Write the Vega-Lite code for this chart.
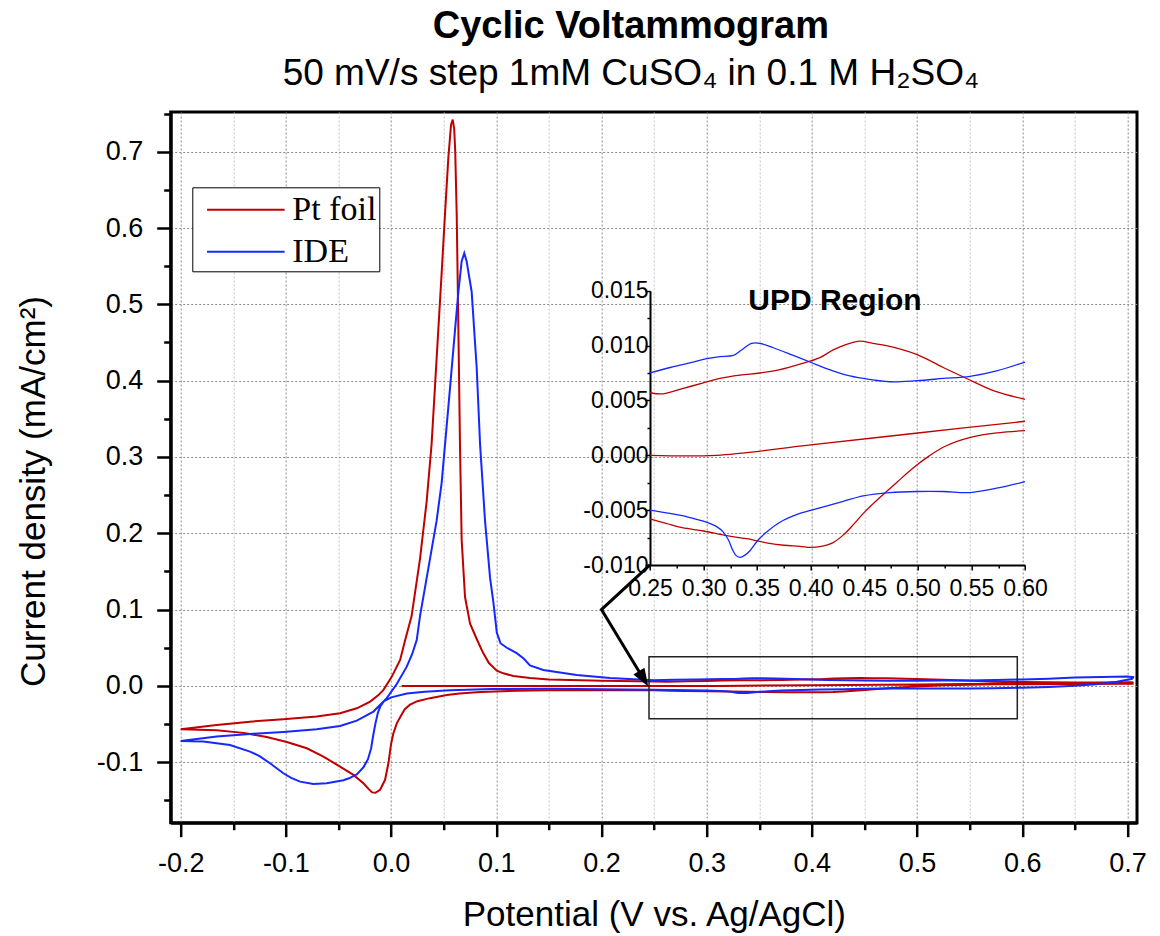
{
  "$schema": "https://vega.github.io/schema/vega-lite/v6.json",
  "width": 966.3,
  "height": 710.7,
  "autosize": {"type": "none"},
  "padding": {"left": 170.7, "top": 112, "right": 23, "bottom": 113.3},
  "background": "white",
  "title": {
    "text": "Cyclic Voltammogram",
    "subtitle": "50 mV/s step 1mM CuSO₄ in 0.1 M H₂SO₄",
    "anchor": "middle",
    "frame": "group",
    "dx": -23,
    "font": "Liberation Sans",
    "fontSize": 38,
    "fontWeight": "bold",
    "color": "black",
    "subtitleFont": "Liberation Sans",
    "subtitleFontSize": 37,
    "subtitleColor": "black",
    "offset": 20,
    "subtitlePadding": 10
  },
  "datasets": {
    "cv": [
      {"sample":"Pt foil","seg":"r0","i":0,"E":0.010,"j":0.0},
      {"sample":"Pt foil","seg":"r0","i":1,"E":0.100,"j":0.0},
      {"sample":"Pt foil","seg":"r0","i":2,"E":0.200,"j":0.0},
      {"sample":"Pt foil","seg":"r0","i":3,"E":0.250,"j":0.0},
      {"sample":"Pt foil","seg":"r0","i":4,"E":0.312,"j":0.0},
      {"sample":"Pt foil","seg":"r0","i":5,"E":0.400,"j":0.00095},
      {"sample":"Pt foil","seg":"r0","i":6,"E":0.500,"j":0.00203},
      {"sample":"Pt foil","seg":"r0","i":7,"E":0.600,"j":0.0031},
      {"sample":"Pt foil","seg":"r0","i":8,"E":0.705,"j":0.0042},
      {"sample":"Pt foil","seg":"r1","i":9,"E":0.705,"j":0.0030},
      {"sample":"Pt foil","seg":"r1","i":10,"E":0.650,"j":0.0025},
      {"sample":"Pt foil","seg":"r1","i":11,"E":0.600,"j":0.00225},
      {"sample":"Pt foil","seg":"r1","i":12,"E":0.575,"j":0.00205},
      {"sample":"Pt foil","seg":"r1","i":13,"E":0.550,"j":0.00165},
      {"sample":"Pt foil","seg":"r1","i":14,"E":0.525,"j":0.0008},
      {"sample":"Pt foil","seg":"r1","i":15,"E":0.510,"j":-0.0001},
      {"sample":"Pt foil","seg":"r1","i":16,"E":0.495,"j":-0.0012},
      {"sample":"Pt foil","seg":"r1","i":17,"E":0.480,"j":-0.0025},
      {"sample":"Pt foil","seg":"r1","i":18,"E":0.465,"j":-0.0038},
      {"sample":"Pt foil","seg":"r1","i":19,"E":0.450,"j":-0.0052},
      {"sample":"Pt foil","seg":"r1","i":20,"E":0.440,"j":-0.0063},
      {"sample":"Pt foil","seg":"r1","i":21,"E":0.430,"j":-0.0073},
      {"sample":"Pt foil","seg":"r1","i":22,"E":0.420,"j":-0.0080},
      {"sample":"Pt foil","seg":"r1","i":23,"E":0.410,"j":-0.0083},
      {"sample":"Pt foil","seg":"r1","i":24,"E":0.400,"j":-0.0084},
      {"sample":"Pt foil","seg":"r1","i":25,"E":0.390,"j":-0.0083},
      {"sample":"Pt foil","seg":"r1","i":26,"E":0.375,"j":-0.0082},
      {"sample":"Pt foil","seg":"r1","i":27,"E":0.360,"j":-0.0080},
      {"sample":"Pt foil","seg":"r1","i":28,"E":0.340,"j":-0.0076},
      {"sample":"Pt foil","seg":"r1","i":29,"E":0.320,"j":-0.0073},
      {"sample":"Pt foil","seg":"r1","i":30,"E":0.300,"j":-0.0069},
      {"sample":"Pt foil","seg":"r1","i":31,"E":0.280,"j":-0.0066},
      {"sample":"Pt foil","seg":"r1","i":32,"E":0.265,"j":-0.0062},
      {"sample":"Pt foil","seg":"r1","i":33,"E":0.250,"j":-0.0058},
      {"sample":"Pt foil","seg":"r1","i":34,"E":0.200,"j":-0.0056},
      {"sample":"Pt foil","seg":"r1","i":35,"E":0.150,"j":-0.0058},
      {"sample":"Pt foil","seg":"r1","i":36,"E":0.120,"j":-0.0064},
      {"sample":"Pt foil","seg":"r1","i":37,"E":0.085,"j":-0.0078},
      {"sample":"Pt foil","seg":"r1","i":38,"E":0.065,"j":-0.0098},
      {"sample":"Pt foil","seg":"r1","i":39,"E":0.053,"j":-0.0118},
      {"sample":"Pt foil","seg":"r1","i":40,"E":0.037,"j":-0.0160},
      {"sample":"Pt foil","seg":"r1","i":41,"E":0.025,"j":-0.0200},
      {"sample":"Pt foil","seg":"r1","i":42,"E":0.018,"j":-0.0245},
      {"sample":"Pt foil","seg":"r1","i":43,"E":0.013,"j":-0.0305},
      {"sample":"Pt foil","seg":"r1","i":44,"E":0.009,"j":-0.0400},
      {"sample":"Pt foil","seg":"r1","i":45,"E":0.0054,"j":-0.0490},
      {"sample":"Pt foil","seg":"r1","i":46,"E":0.0020,"j":-0.0630},
      {"sample":"Pt foil","seg":"r1","i":47,"E":0.0000,"j":-0.0760},
      {"sample":"Pt foil","seg":"r1","i":48,"E":-0.0025,"j":-0.1010},
      {"sample":"Pt foil","seg":"r1","i":49,"E":-0.0057,"j":-0.1230},
      {"sample":"Pt foil","seg":"r1","i":50,"E":-0.0104,"j":-0.1360},
      {"sample":"Pt foil","seg":"r1","i":51,"E":-0.0150,"j":-0.1400},
      {"sample":"Pt foil","seg":"r1","i":52,"E":-0.0180,"j":-0.1395},
      {"sample":"Pt foil","seg":"r1","i":53,"E":-0.0210,"j":-0.1355},
      {"sample":"Pt foil","seg":"r1","i":54,"E":-0.0263,"j":-0.1276},
      {"sample":"Pt foil","seg":"r1","i":55,"E":-0.0358,"j":-0.1166},
      {"sample":"Pt foil","seg":"r1","i":56,"E":-0.0485,"j":-0.1057},
      {"sample":"Pt foil","seg":"r1","i":57,"E":-0.0643,"j":-0.0926},
      {"sample":"Pt foil","seg":"r1","i":58,"E":-0.0801,"j":-0.0817},
      {"sample":"Pt foil","seg":"r1","i":59,"E":-0.0991,"j":-0.0735},
      {"sample":"Pt foil","seg":"r1","i":60,"E":-0.1182,"j":-0.0670},
      {"sample":"Pt foil","seg":"r1","i":61,"E":-0.1403,"j":-0.0615},
      {"sample":"Pt foil","seg":"r1","i":62,"E":-0.1658,"j":-0.0580},
      {"sample":"Pt foil","seg":"r1","i":63,"E":-0.2000,"j":-0.0568},
      {"sample":"Pt foil","seg":"r2","i":64,"E":-0.2000,"j":-0.0568},
      {"sample":"Pt foil","seg":"r2","i":65,"E":-0.1658,"j":-0.0511},
      {"sample":"Pt foil","seg":"r2","i":66,"E":-0.1341,"j":-0.0468},
      {"sample":"Pt foil","seg":"r2","i":67,"E":-0.1024,"j":-0.0437},
      {"sample":"Pt foil","seg":"r2","i":68,"E":-0.0707,"j":-0.0402},
      {"sample":"Pt foil","seg":"r2","i":69,"E":-0.0485,"j":-0.0358},
      {"sample":"Pt foil","seg":"r2","i":70,"E":-0.0326,"j":-0.0293},
      {"sample":"Pt foil","seg":"r2","i":71,"E":-0.0199,"j":-0.0205},
      {"sample":"Pt foil","seg":"r2","i":72,"E":-0.0120,"j":-0.0120},
      {"sample":"Pt foil","seg":"r2","i":73,"E":-0.0072,"j":-0.0052},
      {"sample":"Pt foil","seg":"r2","i":74,"E":0.0007,"j":0.0122},
      {"sample":"Pt foil","seg":"r2","i":75,"E":0.0086,"j":0.0341},
      {"sample":"Pt foil","seg":"r2","i":76,"E":0.0134,"j":0.0603},
      {"sample":"Pt foil","seg":"r2","i":77,"E":0.0195,"j":0.0915},
      {"sample":"Pt foil","seg":"r2","i":78,"E":0.0275,"j":0.1665},
      {"sample":"Pt foil","seg":"r2","i":79,"E":0.0338,"j":0.2415},
      {"sample":"Pt foil","seg":"r2","i":80,"E":0.0385,"j":0.3165},
      {"sample":"Pt foil","seg":"r2","i":81,"E":0.0417,"j":0.3915},
      {"sample":"Pt foil","seg":"r2","i":82,"E":0.0449,"j":0.4665},
      {"sample":"Pt foil","seg":"r2","i":83,"E":0.0481,"j":0.5415},
      {"sample":"Pt foil","seg":"r2","i":84,"E":0.0512,"j":0.6165},
      {"sample":"Pt foil","seg":"r2","i":85,"E":0.0544,"j":0.6915},
      {"sample":"Pt foil","seg":"r2","i":86,"E":0.0570,"j":0.7350},
      {"sample":"Pt foil","seg":"r2","i":87,"E":0.0586,"j":0.7420},
      {"sample":"Pt foil","seg":"r2","i":88,"E":0.0600,"j":0.7300},
      {"sample":"Pt foil","seg":"r2","i":89,"E":0.0610,"j":0.7000},
      {"sample":"Pt foil","seg":"r2","i":90,"E":0.0624,"j":0.6165},
      {"sample":"Pt foil","seg":"r2","i":91,"E":0.0640,"j":0.4665},
      {"sample":"Pt foil","seg":"r2","i":92,"E":0.0655,"j":0.3165},
      {"sample":"Pt foil","seg":"r2","i":93,"E":0.0671,"j":0.1915},
      {"sample":"Pt foil","seg":"r2","i":94,"E":0.0703,"j":0.1165},
      {"sample":"Pt foil","seg":"r2","i":95,"E":0.0751,"j":0.0815},
      {"sample":"Pt foil","seg":"r2","i":96,"E":0.0814,"j":0.0615},
      {"sample":"Pt foil","seg":"r2","i":97,"E":0.0872,"j":0.0440},
      {"sample":"Pt foil","seg":"r2","i":98,"E":0.0930,"j":0.0300},
      {"sample":"Pt foil","seg":"r2","i":99,"E":0.1005,"j":0.0200},
      {"sample":"Pt foil","seg":"r2","i":100,"E":0.1067,"j":0.0165},
      {"sample":"Pt foil","seg":"r2","i":101,"E":0.1163,"j":0.0130},
      {"sample":"Pt foil","seg":"r2","i":102,"E":0.1322,"j":0.0105},
      {"sample":"Pt foil","seg":"r2","i":103,"E":0.1500,"j":0.0085},
      {"sample":"Pt foil","seg":"r2","i":104,"E":0.2000,"j":0.0068},
      {"sample":"Pt foil","seg":"r2","i":105,"E":0.2500,"j":0.0057},
      {"sample":"Pt foil","seg":"r2","i":106,"E":0.2624,"j":0.0056},
      {"sample":"Pt foil","seg":"r2","i":107,"E":0.2811,"j":0.0061},
      {"sample":"Pt foil","seg":"r2","i":108,"E":0.2998,"j":0.0066},
      {"sample":"Pt foil","seg":"r2","i":109,"E":0.3153,"j":0.0070},
      {"sample":"Pt foil","seg":"r2","i":110,"E":0.3340,"j":0.0073},
      {"sample":"Pt foil","seg":"r2","i":111,"E":0.3526,"j":0.0075},
      {"sample":"Pt foil","seg":"r2","i":112,"E":0.3713,"j":0.0078},
      {"sample":"Pt foil","seg":"r2","i":113,"E":0.3899,"j":0.0083},
      {"sample":"Pt foil","seg":"r2","i":114,"E":0.4086,"j":0.0089},
      {"sample":"Pt foil","seg":"r2","i":115,"E":0.4210,"j":0.0096},
      {"sample":"Pt foil","seg":"r2","i":116,"E":0.4335,"j":0.0101},
      {"sample":"Pt foil","seg":"r2","i":117,"E":0.4459,"j":0.0104},
      {"sample":"Pt foil","seg":"r2","i":118,"E":0.4580,"j":0.0102},
      {"sample":"Pt foil","seg":"r2","i":119,"E":0.4708,"j":0.0100},
      {"sample":"Pt foil","seg":"r2","i":120,"E":0.4988,"j":0.0092},
      {"sample":"Pt foil","seg":"r2","i":121,"E":0.5237,"j":0.0080},
      {"sample":"Pt foil","seg":"r2","i":122,"E":0.5455,"j":0.0070},
      {"sample":"Pt foil","seg":"r2","i":123,"E":0.5704,"j":0.0059},
      {"sample":"Pt foil","seg":"r2","i":124,"E":0.6000,"j":0.0051},
      {"sample":"Pt foil","seg":"r2","i":125,"E":0.6500,"j":0.0046},
      {"sample":"Pt foil","seg":"r2","i":126,"E":0.7050,"j":0.0045},
      {"sample":"IDE","seg":"b1","i":0,"E":0.705,"j":0.0095},
      {"sample":"IDE","seg":"b1","i":1,"E":0.690,"j":0.0055},
      {"sample":"IDE","seg":"b1","i":2,"E":0.670,"j":0.0022},
      {"sample":"IDE","seg":"b1","i":3,"E":0.650,"j":0.0002},
      {"sample":"IDE","seg":"b1","i":4,"E":0.625,"j":-0.0013},
      {"sample":"IDE","seg":"b1","i":5,"E":0.600,"j":-0.0024},
      {"sample":"IDE","seg":"b1","i":6,"E":0.5735,"j":-0.0030},
      {"sample":"IDE","seg":"b1","i":7,"E":0.5486,"j":-0.0034},
      {"sample":"IDE","seg":"b1","i":8,"E":0.5237,"j":-0.0033},
      {"sample":"IDE","seg":"b1","i":9,"E":0.4988,"j":-0.0033},
      {"sample":"IDE","seg":"b1","i":10,"E":0.4739,"j":-0.0034},
      {"sample":"IDE","seg":"b1","i":11,"E":0.4490,"j":-0.0037},
      {"sample":"IDE","seg":"b1","i":12,"E":0.4304,"j":-0.0042},
      {"sample":"IDE","seg":"b1","i":13,"E":0.4086,"j":-0.0048},
      {"sample":"IDE","seg":"b1","i":14,"E":0.3899,"j":-0.0053},
      {"sample":"IDE","seg":"b1","i":15,"E":0.3713,"j":-0.0061},
      {"sample":"IDE","seg":"b1","i":16,"E":0.3588,"j":-0.0070},
      {"sample":"IDE","seg":"b1","i":17,"E":0.3511,"j":-0.0077},
      {"sample":"IDE","seg":"b1","i":18,"E":0.3433,"j":-0.0087},
      {"sample":"IDE","seg":"b1","i":19,"E":0.3386,"j":-0.0091},
      {"sample":"IDE","seg":"b1","i":20,"E":0.3340,"j":-0.0093},
      {"sample":"IDE","seg":"b1","i":21,"E":0.3300,"j":-0.0091},
      {"sample":"IDE","seg":"b1","i":22,"E":0.3270,"j":-0.0086},
      {"sample":"IDE","seg":"b1","i":23,"E":0.3231,"j":-0.0077},
      {"sample":"IDE","seg":"b1","i":24,"E":0.3184,"j":-0.0070},
      {"sample":"IDE","seg":"b1","i":25,"E":0.3122,"j":-0.0065},
      {"sample":"IDE","seg":"b1","i":26,"E":0.2998,"j":-0.0060},
      {"sample":"IDE","seg":"b1","i":27,"E":0.2842,"j":-0.0056},
      {"sample":"IDE","seg":"b1","i":28,"E":0.2687,"j":-0.0053},
      {"sample":"IDE","seg":"b1","i":29,"E":0.2500,"j":-0.0050},
      {"sample":"IDE","seg":"b1","i":30,"E":0.2000,"j":-0.0043},
      {"sample":"IDE","seg":"b1","i":31,"E":0.1500,"j":-0.0038},
      {"sample":"IDE","seg":"b1","i":32,"E":0.0950,"j":-0.0040},
      {"sample":"IDE","seg":"b1","i":33,"E":0.0560,"j":-0.0058},
      {"sample":"IDE","seg":"b1","i":34,"E":0.0320,"j":-0.0075},
      {"sample":"IDE","seg":"b1","i":35,"E":0.0150,"j":-0.0100},
      {"sample":"IDE","seg":"b1","i":36,"E":0.0002,"j":-0.0150},
      {"sample":"IDE","seg":"b1","i":37,"E":-0.0067,"j":-0.0200},
      {"sample":"IDE","seg":"b1","i":38,"E":-0.0100,"j":-0.0260},
      {"sample":"IDE","seg":"b1","i":39,"E":-0.0125,"j":-0.0350},
      {"sample":"IDE","seg":"b1","i":40,"E":-0.0150,"j":-0.0500},
      {"sample":"IDE","seg":"b1","i":41,"E":-0.0170,"j":-0.0650},
      {"sample":"IDE","seg":"b1","i":42,"E":-0.0190,"j":-0.0820},
      {"sample":"IDE","seg":"b1","i":43,"E":-0.0220,"j":-0.0960},
      {"sample":"IDE","seg":"b1","i":44,"E":-0.0260,"j":-0.1060},
      {"sample":"IDE","seg":"b1","i":45,"E":-0.0326,"j":-0.1160},
      {"sample":"IDE","seg":"b1","i":46,"E":-0.0400,"j":-0.1210},
      {"sample":"IDE","seg":"b1","i":47,"E":-0.0453,"j":-0.1235},
      {"sample":"IDE","seg":"b1","i":48,"E":-0.0612,"j":-0.1276},
      {"sample":"IDE","seg":"b1","i":49,"E":-0.0739,"j":-0.1284},
      {"sample":"IDE","seg":"b1","i":50,"E":-0.0865,"j":-0.1254},
      {"sample":"IDE","seg":"b1","i":51,"E":-0.0950,"j":-0.1205},
      {"sample":"IDE","seg":"b1","i":52,"E":-0.1024,"j":-0.1144},
      {"sample":"IDE","seg":"b1","i":53,"E":-0.1151,"j":-0.1013},
      {"sample":"IDE","seg":"b1","i":54,"E":-0.1250,"j":-0.0920},
      {"sample":"IDE","seg":"b1","i":55,"E":-0.1341,"j":-0.0860},
      {"sample":"IDE","seg":"b1","i":56,"E":-0.1531,"j":-0.0773},
      {"sample":"IDE","seg":"b1","i":57,"E":-0.1785,"j":-0.0729},
      {"sample":"IDE","seg":"b1","i":58,"E":-0.2000,"j":-0.0721},
      {"sample":"IDE","seg":"b2","i":59,"E":-0.2000,"j":-0.0721},
      {"sample":"IDE","seg":"b2","i":60,"E":-0.1658,"j":-0.0664},
      {"sample":"IDE","seg":"b2","i":61,"E":-0.1341,"j":-0.0629},
      {"sample":"IDE","seg":"b2","i":62,"E":-0.1024,"j":-0.0603},
      {"sample":"IDE","seg":"b2","i":63,"E":-0.0707,"j":-0.0568},
      {"sample":"IDE","seg":"b2","i":64,"E":-0.0485,"j":-0.0524},
      {"sample":"IDE","seg":"b2","i":65,"E":-0.0326,"j":-0.0454},
      {"sample":"IDE","seg":"b2","i":66,"E":-0.0168,"j":-0.0336},
      {"sample":"IDE","seg":"b2","i":67,"E":-0.0041,"j":-0.0160},
      {"sample":"IDE","seg":"b2","i":68,"E":0.0054,"j":0.0025},
      {"sample":"IDE","seg":"b2","i":69,"E":0.0149,"j":0.0253},
      {"sample":"IDE","seg":"b2","i":70,"E":0.0200,"j":0.0415},
      {"sample":"IDE","seg":"b2","i":71,"E":0.0244,"j":0.0603},
      {"sample":"IDE","seg":"b2","i":72,"E":0.0275,"j":0.0915},
      {"sample":"IDE","seg":"b2","i":73,"E":0.0370,"j":0.1665},
      {"sample":"IDE","seg":"b2","i":74,"E":0.0433,"j":0.2165},
      {"sample":"IDE","seg":"b2","i":75,"E":0.0481,"j":0.2665},
      {"sample":"IDE","seg":"b2","i":76,"E":0.0513,"j":0.3165},
      {"sample":"IDE","seg":"b2","i":77,"E":0.0561,"j":0.3915},
      {"sample":"IDE","seg":"b2","i":78,"E":0.0608,"j":0.4665},
      {"sample":"IDE","seg":"b2","i":79,"E":0.0640,"j":0.5165},
      {"sample":"IDE","seg":"b2","i":80,"E":0.0671,"j":0.5565},
      {"sample":"IDE","seg":"b2","i":81,"E":0.0696,"j":0.5670},
      {"sample":"IDE","seg":"b2","i":82,"E":0.0718,"j":0.5565},
      {"sample":"IDE","seg":"b2","i":83,"E":0.0766,"j":0.5165},
      {"sample":"IDE","seg":"b2","i":84,"E":0.0814,"j":0.4165},
      {"sample":"IDE","seg":"b2","i":85,"E":0.0846,"j":0.3165},
      {"sample":"IDE","seg":"b2","i":86,"E":0.0893,"j":0.2165},
      {"sample":"IDE","seg":"b2","i":87,"E":0.0941,"j":0.1415},
      {"sample":"IDE","seg":"b2","i":88,"E":0.0972,"j":0.1100},
      {"sample":"IDE","seg":"b2","i":89,"E":0.1005,"j":0.0700},
      {"sample":"IDE","seg":"b2","i":90,"E":0.1040,"j":0.0560},
      {"sample":"IDE","seg":"b2","i":91,"E":0.1100,"j":0.0500},
      {"sample":"IDE","seg":"b2","i":92,"E":0.1194,"j":0.0430},
      {"sample":"IDE","seg":"b2","i":93,"E":0.1260,"j":0.0360},
      {"sample":"IDE","seg":"b2","i":94,"E":0.1320,"j":0.0270},
      {"sample":"IDE","seg":"b2","i":95,"E":0.1447,"j":0.0210},
      {"sample":"IDE","seg":"b2","i":96,"E":0.1764,"j":0.0144},
      {"sample":"IDE","seg":"b2","i":97,"E":0.2081,"j":0.0105},
      {"sample":"IDE","seg":"b2","i":98,"E":0.2398,"j":0.0080},
      {"sample":"IDE","seg":"b2","i":99,"E":0.2500,"j":0.0075},
      {"sample":"IDE","seg":"b2","i":100,"E":0.2687,"j":0.0080},
      {"sample":"IDE","seg":"b2","i":101,"E":0.2904,"j":0.0085},
      {"sample":"IDE","seg":"b2","i":102,"E":0.3029,"j":0.0088},
      {"sample":"IDE","seg":"b2","i":103,"E":0.3153,"j":0.0090},
      {"sample":"IDE","seg":"b2","i":104,"E":0.3277,"j":0.0091},
      {"sample":"IDE","seg":"b2","i":105,"E":0.3355,"j":0.0096},
      {"sample":"IDE","seg":"b2","i":106,"E":0.3448,"j":0.0102},
      {"sample":"IDE","seg":"b2","i":107,"E":0.3526,"j":0.0102},
      {"sample":"IDE","seg":"b2","i":108,"E":0.3651,"j":0.0098},
      {"sample":"IDE","seg":"b2","i":109,"E":0.3837,"j":0.0091},
      {"sample":"IDE","seg":"b2","i":110,"E":0.3993,"j":0.0085},
      {"sample":"IDE","seg":"b2","i":111,"E":0.4148,"j":0.0079},
      {"sample":"IDE","seg":"b2","i":112,"E":0.4335,"j":0.0073},
      {"sample":"IDE","seg":"b2","i":113,"E":0.4490,"j":0.0070},
      {"sample":"IDE","seg":"b2","i":114,"E":0.4739,"j":0.0067},
      {"sample":"IDE","seg":"b2","i":115,"E":0.4988,"j":0.0068},
      {"sample":"IDE","seg":"b2","i":116,"E":0.5237,"j":0.0070},
      {"sample":"IDE","seg":"b2","i":117,"E":0.5486,"j":0.0072},
      {"sample":"IDE","seg":"b2","i":118,"E":0.5735,"j":0.0077},
      {"sample":"IDE","seg":"b2","i":119,"E":0.6000,"j":0.0085},
      {"sample":"IDE","seg":"b2","i":120,"E":0.6250,"j":0.0095},
      {"sample":"IDE","seg":"b2","i":121,"E":0.6500,"j":0.0110},
      {"sample":"IDE","seg":"b2","i":122,"E":0.6750,"j":0.0118},
      {"sample":"IDE","seg":"b2","i":123,"E":0.7000,"j":0.0122},
      {"sample":"IDE","seg":"b2","i":124,"E":0.7055,"j":0.0115},
      {"sample":"IDE","seg":"b2","i":125,"E":0.7050,"j":0.0095}
    ],
    "box": [{"E1": 0.2452, "E2": 0.5953, "j1": -0.0429, "j2": 0.0384}],
    "arrow": [
      {"k": 0, "E": 0.2461, "j": 0.1586},
      {"k": 1, "E": 0.2000, "j": 0.1000},
      {"k": 2, "E": 0.2405, "j": 0.0080}
    ],
    "head": [{"E": 0.2445, "j": -0.0009}],
    "label": [{"t": "UPD Region", "E": 0.4226, "j": 0.0141}],
    "anchor": [{"E": 0.25, "j": 0.3}]
  },
  "layer": [
    {
      "layer": [
        {
          "data": {"name": "cv"},
          "mark": {"type": "line", "strokeWidth": 2},
          "encoding": {
            "x": {
              "field": "E", "type": "quantitative",
              "scale": {"domain": [-0.2095, 0.7091], "nice": false, "zero": false},
              "axis": {
                "orient": "bottom",
                "title": "Potential (V vs. Ag/AgCl)",
                "values": [-0.2,-0.15,-0.1,-0.05,0,0.05,0.1,0.15,0.2,0.25,0.3,0.35,0.4,0.45,0.5,0.55,0.6,0.65,0.7],
                "labelExpr": "abs(datum.value*10-round(datum.value*10))<1e-6 ? (datum.value < -1e-9 ? '-' + format(-datum.value,'.1f') : format(abs(datum.value),'.1f')) : ''",
                "tickSize": {"condition": {"test": "abs(datum.value*10-round(datum.value*10))<1e-6", "value": 14}, "value": 7},
                "tickWidth": 2.5, "tickColor": "black",
                "domainColor": "black", "domainWidth": 3,
                "labelFont": "Liberation Sans", "labelFontSize": 27, "labelColor": "black",
                "labelPadding": 14, "labelOverlap": false, "labelFlush": false, "labelBound": false,
                "grid": true, "gridDash": [2, 2], "gridWidth": 1,
                "gridColor": {"condition": {"test": "abs(datum.value*10-round(datum.value*10))<1e-6", "value": "#8c8c8c"}, "value": "#c4c4c4"},
                "titleFont": "Liberation Sans", "titleFontSize": 35, "titleFontWeight": "normal", "titleColor": "black",
                "titleY": 103, "titleBaseline": "alphabetic"
              }
            },
            "y": {
              "field": "j", "type": "quantitative",
              "scale": {"domain": [-0.1792, 0.752], "nice": false, "zero": false},
              "axis": {
                "orient": "left",
                "title": "Current density (mA/cm²)",
                "values": [-0.1,0,0.1,0.2,0.3,0.4,0.5,0.6,0.7],
                "labelExpr": "datum.value < -1e-9 ? '-' + format(-datum.value,'.1f') : format(abs(datum.value),'.1f')",
                "tickSize": 14,
                "tickWidth": 2.5, "tickColor": "black",
                "domainColor": "black", "domainWidth": 3,
                "labelFont": "Liberation Sans", "labelFontSize": 27, "labelColor": "black",
                "labelPadding": 14, "labelOverlap": false, "labelFlush": false, "labelBound": false,
                "grid": true, "gridDash": [2, 2], "gridWidth": 1, "gridColor": "#8c8c8c",
                "titleFont": "Liberation Sans", "titleFontSize": 35, "titleFontWeight": "normal", "titleColor": "black",
                "titleX": -126, "titleY": 379, "titleAngle": 270, "titleBaseline": "alphabetic", "titleAlign": "center"
              }
            },
            "color": {
              "field": "sample", "type": "nominal",
              "scale": {"domain": ["Pt foil", "IDE"], "range": ["#c00000", "#1428ff"]},
              "legend": {
                "title": null, "orient": "none", "legendX": 21.6, "legendY": 75.3,
                "symbolType": "M-0.4,0H3.6", "symbolSize": 1505, "symbolStrokeWidth": 2,
                "labelFont": "Liberation Serif", "labelFontSize": 34, "labelColor": "black",
                "labelOffset": 57, "labelLimit": 500,
                "strokeColor": "black", "fillColor": "white", "padding": 2, "rowPadding": 4
              }
            },
            "order": {"field": "i", "type": "quantitative"}
          }
        },
        {
          "data": {"name": "box"},
          "mark": {"type": "rect", "filled": false, "stroke": "#222222", "strokeWidth": 1.5},
          "encoding": {
            "x": {"field": "E1", "type": "quantitative"},
            "x2": {"field": "E2"},
            "y": {"field": "j1", "type": "quantitative"},
            "y2": {"field": "j2"}
          }
        },
        {
          "data": {"name": "arrow"},
          "mark": {"type": "line", "color": "black", "strokeWidth": 3, "strokeJoin": "miter"},
          "encoding": {
            "x": {"field": "E", "type": "quantitative"},
            "y": {"field": "j", "type": "quantitative"},
            "order": {"field": "k", "type": "quantitative"}
          }
        },
        {
          "data": {"name": "head"},
          "mark": {"type": "point", "shape": "M0,0L-0.36,-1L0.36,-1Z", "filled": true, "color": "black", "opacity": 1, "size": 1296, "angle": 328.7},
          "encoding": {
            "x": {"field": "E", "type": "quantitative"},
            "y": {"field": "j", "type": "quantitative"}
          }
        }
      ]
    },
    {
      "data": {"name": "anchor"},
      "mark": {"type": "point", "opacity": 0},
      "encoding": {
        "x": {
          "field": "E", "type": "quantitative",
          "scale": {"domain": [-0.2095, 0.7091], "nice": false, "zero": false},
          "axis": null
        },
        "y": {
          "field": "j", "type": "quantitative",
          "scale": {"domain": [-0.1792, 0.752], "nice": false, "zero": false},
          "axis": {
            "orient": "left", "title": null,
            "values": [-0.15,-0.05,0.05,0.15,0.25,0.35,0.45,0.55,0.65,0.75],
            "labels": false, "domain": false, "grid": false,
            "tickSize": 7, "tickWidth": 2.5, "tickColor": "black"
          }
        }
      }
    },
    {
      "layer": [
        {
          "data": {"name": "cv"},
          "transform": [{"filter": "datum.E >= 0.2499 && datum.E <= 0.6001"}],
          "mark": {"type": "line", "strokeWidth": 1.3, "clip": false, "interpolate": "catmull-rom"},
          "encoding": {
            "x": {
              "field": "E", "type": "quantitative",
              "scale": {"domain": [0.25, 0.6], "range": [479.3, 854.3], "nice": false, "zero": false},
              "axis": {
                "orient": "bottom", "offset": -257.7, "title": null,
                "values": [0.25,0.275,0.3,0.325,0.35,0.375,0.4,0.425,0.45,0.475,0.5,0.525,0.55,0.575,0.6],
                "labelExpr": "abs(datum.value*20-round(datum.value*20))<1e-6 ? format(datum.value,'.2f') : ''",
                "tickSize": {"condition": {"test": "abs(datum.value*20-round(datum.value*20))<1e-6", "value": 5}, "value": 3},
                "tickWidth": 1.5, "tickColor": "black",
                "domainColor": "black", "domainWidth": 2,
                "labelFont": "Liberation Sans", "labelFontSize": 23, "labelColor": "black",
                "labelPadding": 7, "labelOverlap": false, "labelFlush": false, "labelBound": false,
                "grid": false
              }
            },
            "y": {
              "field": "j", "type": "quantitative",
              "scale": {"domain": [-0.01, 0.015], "range": [453, 178.7], "nice": false, "zero": false},
              "axis": {
                "orient": "left", "offset": -479.3, "title": null,
                "values": [-0.01,-0.0075,-0.005,-0.0025,0,0.0025,0.005,0.0075,0.01,0.0125,0.015],
                "labelExpr": "abs(datum.value*200-round(datum.value*200))<1e-6 ? (datum.value < -1e-9 ? '-' + format(-datum.value,'.3f') : format(abs(datum.value),'.3f')) : ''",
                "tickSize": {"condition": {"test": "abs(datum.value*200-round(datum.value*200))<1e-6", "value": 5}, "value": 3},
                "tickWidth": 1.5, "tickColor": "black",
                "domainColor": "black", "domainWidth": 2,
                "labelFont": "Liberation Sans", "labelFontSize": 23, "labelColor": "black",
                "labelPadding": -3, "labelOverlap": false, "labelFlush": false, "labelBound": false,
                "grid": false
              }
            },
            "color": {"field": "sample", "type": "nominal", "legend": null},
            "detail": {"field": "seg", "type": "nominal"},
            "order": {"field": "i", "type": "quantitative"}
          }
        },
        {
          "data": {"name": "label"},
          "mark": {"type": "text", "font": "Liberation Sans", "fontSize": 30, "fontWeight": "bold", "color": "black", "align": "center", "baseline": "middle"},
          "encoding": {
            "x": {"field": "E", "type": "quantitative"},
            "y": {"field": "j", "type": "quantitative"},
            "text": {"field": "t"}
          }
        }
      ]
    }
  ],
  "resolve": {
    "scale": {"x": "independent", "y": "independent", "color": "shared"},
    "axis": {"x": "independent", "y": "independent"}
  },
  "config": {
    "view": {"stroke": "black", "strokeWidth": 3},
    "font": "Liberation Sans"
  }
}
